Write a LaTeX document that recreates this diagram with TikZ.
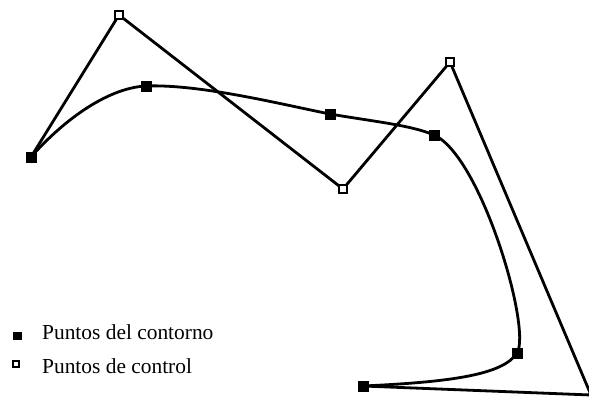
\documentclass[tikz,border=0pt]{standalone}
\usepackage{fontspec}
\setmainfont{Liberation Serif}
\usetikzlibrary{positioning, backgrounds}

\begin{document}
\begin{tikzpicture}[x=1pt, y=-1pt,
  contorno/.style={rectangle, draw=black, fill=black, minimum size=9.5pt, inner sep=0pt},
  control/.style={rectangle, draw=black, fill=white, line width=2pt, minimum size=7.5pt, inner sep=0pt},
  linea/.style={line width=2.8pt, line join=round, line cap=round},
  leyenda/.style={font=\fontsize{21.4}{24}\selectfont, anchor=base west, inner sep=0pt}]
  \useasboundingbox (0,0) rectangle (589,397);
  % puntos de control
  \node[control] (c1) at (119,15) {};
  \node[control] (c2) at (343,189) {};
  \node[control] (c3) at (450,62) {};
  \coordinate (c4) at (591,395);
  % puntos del contorno
  \node[contorno] (p1) at (31,157) {};
  \node[contorno] (p2) at (146,86) {};
  \node[contorno] (p3) at (330,114) {};
  \node[contorno] (p4) at (434,135) {};
  \node[contorno] (p5) at (517,353) {};
  \node[contorno] (p6) at (363,386) {};
  \begin{scope}[on background layer]
    % poligono de control
    \draw[linea] (p1.center) -- (c1.center) -- (c2.center) -- (c3.center) -- (c4) -- (p6.center);
    % curva
    \draw[linea] (p1.center) .. controls (60,124) and (105,88) .. (p2.center)
      .. controls (200,84) and (280,104) .. (p3.center)
      .. controls (370,121) and (411,125) .. (p4.center)
      .. controls (481,156) and (532,329) .. (p5.center)
      .. controls (503,375) and (450,382) .. (p6.center);
  \end{scope}
  % leyenda
  \node[contorno, minimum width=8pt, minimum height=7pt] (lc) at (17,336) {};
  \node[control, minimum size=5.5pt] (lk) at (16,364) {};
  \node[leyenda] (tc) at (42,339) {Puntos del contorno};
  \node[leyenda] (tk) at (42,373) {Puntos de control};
\end{tikzpicture}
\end{document}
